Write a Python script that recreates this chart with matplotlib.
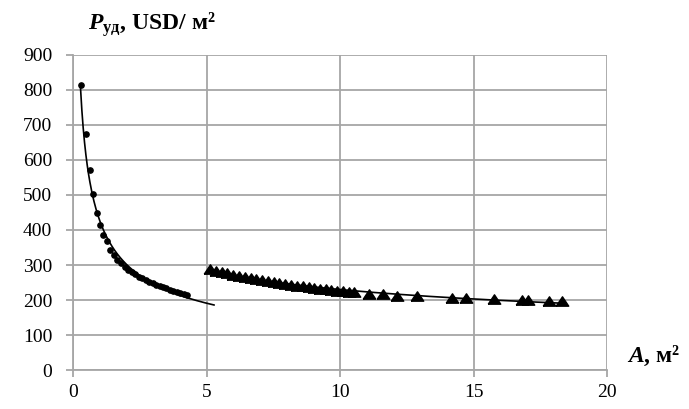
import numpy as np
import matplotlib.pyplot as plt

plt.rcParams['font.family'] = ['Liberation Serif', 'DejaVu Serif']
plt.rcParams['mathtext.fontset'] = 'custom'
plt.rcParams['mathtext.rm'] = 'Liberation Serif'
plt.rcParams['mathtext.it'] = 'Liberation Serif:italic'
plt.rcParams['mathtext.bf'] = 'Liberation Serif:bold'
plt.rcParams['mathtext.bfit'] = 'Liberation Serif:bold:italic'

# small panels (points)
a1 = [0.28, 0.50, 0.63, 0.75, 0.88, 1.01, 1.14, 1.27, 1.40, 1.53, 1.66, 1.80,
      1.93, 2.07, 2.20, 2.33, 2.46, 2.59, 2.72, 2.85, 2.98, 3.11, 3.24, 3.37,
      3.50, 3.63, 3.76, 3.89, 4.02, 4.15, 4.28]
p1 = [815, 675, 570, 502, 448, 413, 385, 370, 342, 330, 315, 305,
      294, 287, 280, 273, 267, 262, 257, 252, 248, 244, 240, 237,
      234, 230, 227, 224, 221, 218, 215]

# large panels (triangles)
a2 = [5.13, 5.35, 5.57, 5.78, 6.00, 6.22, 6.43, 6.65, 6.87, 7.08, 7.30, 7.52,
      7.73, 7.95, 8.17, 8.38, 8.60, 8.82, 9.03, 9.25, 9.47, 9.68, 9.90, 10.12,
      10.33, 10.53, 11.10, 11.60, 12.13, 12.90, 14.20, 14.70, 15.77, 16.82,
      17.05, 17.83, 18.32]
p2 = [290, 284, 280, 276, 272, 268, 265, 262, 259, 256, 253, 251,
      248, 246, 244, 241, 239, 237, 235, 233, 231, 229, 227, 225,
      224, 222, 218, 216, 213, 211, 207, 205, 203, 200,
      200, 198, 196]

def power_fit(x, y):
    b, lna = np.polyfit(np.log(x), np.log(y), 1)
    return np.exp(lna), b

fig = plt.figure(figsize=(6.89, 4.09), dpi=100)
ax = fig.add_axes([0.106, 0.095, 0.775, 0.771])

grid_c = '#a6a6a6'
ax.set_xlim(0, 20)
ax.set_ylim(0, 900)
ax.set_xticks(np.arange(0, 21, 5))
ax.set_yticks(np.arange(0, 901, 100))
ax.grid(True, color=grid_c, linewidth=1.3)
ax.set_axisbelow(True)
for s in ['top', 'right']:
    ax.spines[s].set_visible(False)
for s in ['left', 'bottom']:
    ax.spines[s].set_color(grid_c)
    ax.spines[s].set_linewidth(1.3)
ax.tick_params(direction='out', length=5, width=1.3, color=grid_c,
               labelsize=14)
ax.tick_params(axis='y', pad=10)
ax.tick_params(axis='x', pad=5)

# trend lines
k1, b1 = power_fit(a1, p1)
xs1 = np.linspace(a1[0], a1[-1] + 1.0, 200)
ax.plot(xs1, k1 * xs1 ** b1, color='black', linewidth=1.2, clip_on=False)
k2, b2 = power_fit(a2, p2)
xs2 = np.linspace(a2[0], a2[-1], 200)
ax.plot(xs2, k2 * xs2 ** b2, color='black', linewidth=1.2)

tri = [(-1, -0.75), (1, -0.75), (0, 0.75), (-1, -0.75)]
ax.plot(a1, p1, 'o', color='black', markersize=3.8, linestyle='none', clip_on=False)
ax.plot(a2, p2, marker=tri, color='black', markersize=9, linestyle='none')

fig.text(88 / 689, 1 - 30 / 409, r'$\mathbfit{P}_{\mathbf{уд}}$' + ', USD/ м²',
         fontsize=17, fontweight='bold', va='baseline', ha='left')
fig.text(627 / 689, 1 - 362 / 409, r'$\mathbfit{A}$' + ', м²',
         fontsize=17, fontweight='bold', va='baseline', ha='left')

fig.savefig('out.png', dpi=100)
